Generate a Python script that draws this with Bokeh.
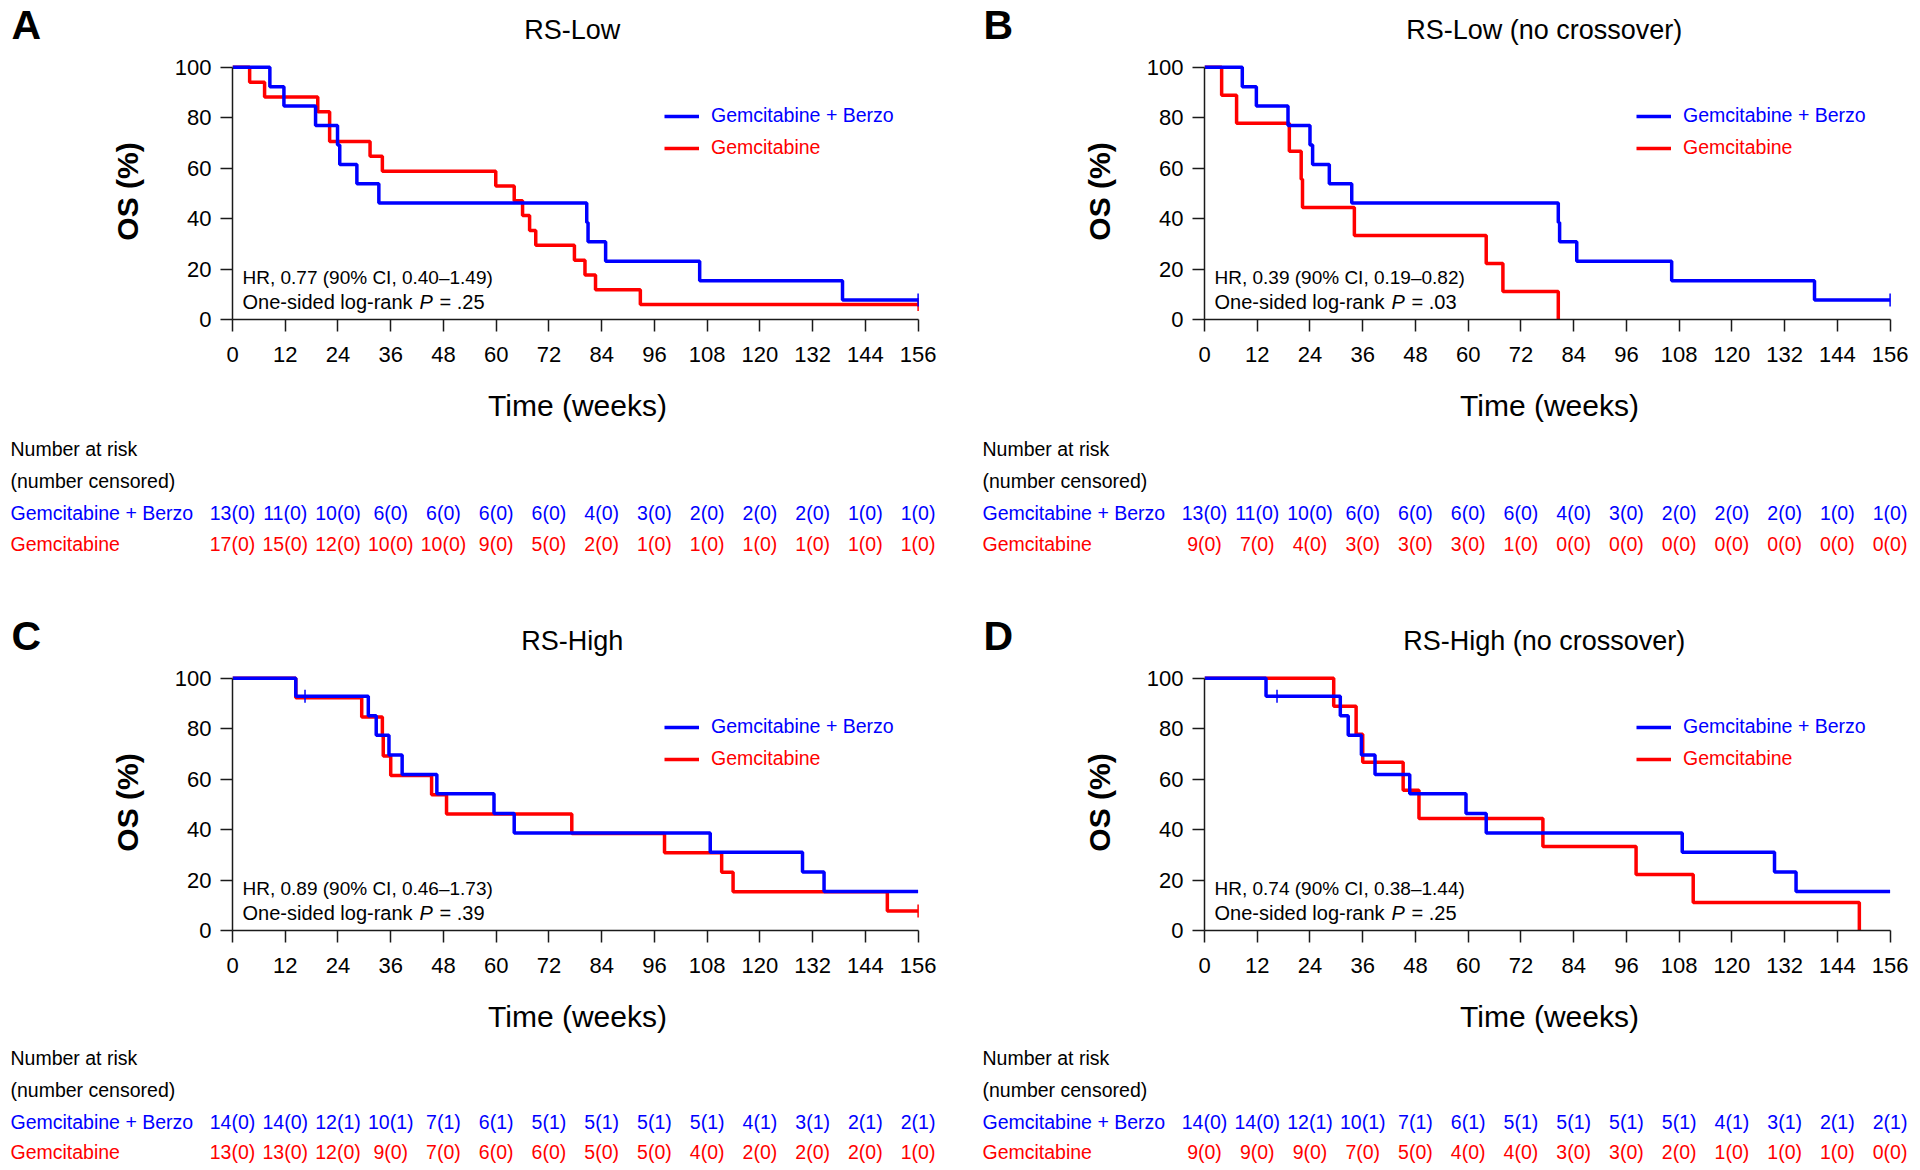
import numpy as np
from bokeh.plotting import figure
from bokeh.models import Range1d, FixedTicker, Legend, LegendItem, Label, ColumnDataSource
from bokeh.layouts import row
from bokeh.core.properties import value
from bokeh.embed import file_html
from bokeh.resources import INLINE

# ---------------- data ----------------
TICKS_X = [0, 12, 24, 36, 48, 60, 72, 84, 96, 108, 120, 132, 144, 156]
TICKS_Y = [0, 20, 40, 60, 80, 100]
ARM_BERZO = "Gemcitabine + Berzo"
ARM_GEM = "Gemcitabine"

TITLES = ["RS-Low", "RS-Low (no crossover)", "RS-High", "RS-High (no crossover)"]
LETTERS = ["A", "B", "C", "D"]
HR_TEXT = ["HR, 0.77 (90% CI, 0.40\u20131.49)", "HR, 0.39 (90% CI, 0.19\u20130.82)",
           "HR, 0.89 (90% CI, 0.46\u20131.73)", "HR, 0.74 (90% CI, 0.38\u20131.44)"]
P_TEXT = ["= .25", "= .03", "= .39", "= .25"]

# Panel A
A_BERZO_T = [0, 8.5, 11.7, 18.9, 23.9, 24.4, 28.3, 33.3, 80.6, 80.9, 84.9, 106.3, 138.8, 156]
A_BERZO_S = [100, 92.3, 84.6, 76.9, 69.2, 61.5, 53.8, 46.2, 38.5, 30.8, 23.1, 15.4, 7.7, 7.7]
A_BERZO_CT = [156]
A_BERZO_CS = [7.7]
A_GEM_T = [0, 3.9, 7.3, 19.4, 22.1, 31.3, 34.1, 59.9, 64.1, 66.0, 67.6, 69.0, 77.8, 80.2, 82.6, 92.8, 156]
A_GEM_S = [100, 94.1, 88.2, 82.4, 70.6, 64.7, 58.8, 52.9, 47.1, 41.2, 35.3, 29.4, 23.5, 17.6, 11.8, 5.9, 5.9]
A_GEM_CT = [156]
A_GEM_CS = [5.9]
A_BERZO_RISK = [13, 11, 10, 6, 6, 6, 6, 4, 3, 2, 2, 2, 1, 1]
A_BERZO_CENS = [0, 0, 0, 0, 0, 0, 0, 0, 0, 0, 0, 0, 0, 0]
A_GEM_RISK = [17, 15, 12, 10, 10, 9, 5, 2, 1, 1, 1, 1, 1, 1]
A_GEM_CENS = [0, 0, 0, 0, 0, 0, 0, 0, 0, 0, 0, 0, 0, 0]

# Panel B
B_BERZO_T = [0, 8.6, 11.8, 19.0, 24.0, 24.6, 28.4, 33.5, 80.5, 80.8, 84.7, 106.3, 138.8, 156]
B_BERZO_S = [100, 92.3, 84.6, 76.9, 69.2, 61.5, 53.8, 46.2, 38.5, 30.8, 23.1, 15.4, 7.7, 7.7]
B_BERZO_CT = [156]
B_BERZO_CS = [7.7]
B_GEM_T = [0, 3.9, 7.3, 19.3, 22.0, 22.3, 34.1, 64.1, 67.9, 80.5]
B_GEM_S = [100, 88.9, 77.8, 66.7, 55.6, 44.4, 33.3, 22.2, 11.1, 0]
B_GEM_CT = []
B_GEM_CS = []
B_BERZO_RISK = [13, 11, 10, 6, 6, 6, 6, 4, 3, 2, 2, 2, 1, 1]
B_BERZO_CENS = [0, 0, 0, 0, 0, 0, 0, 0, 0, 0, 0, 0, 0, 0]
B_GEM_RISK = [9, 7, 4, 3, 3, 3, 1, 0, 0, 0, 0, 0, 0, 0]
B_GEM_CENS = [0, 0, 0, 0, 0, 0, 0, 0, 0, 0, 0, 0, 0, 0]

# Panel C
C_BERZO_T = [0, 14.4, 30.9, 32.7, 35.6, 38.6, 46.5, 59.5, 64.1, 108.7, 129.7, 134.6, 156]
C_BERZO_S = [100, 92.9, 85.1, 77.4, 69.6, 61.9, 54.2, 46.4, 38.7, 31.0, 23.2, 15.5, 15.5]
C_BERZO_CT = [16.5]
C_BERZO_CS = [92.9]
C_GEM_T = [0, 14.4, 29.4, 34.1, 34.3, 36.0, 45.3, 48.7, 77.2, 98.3, 111.3, 113.9, 149.0, 156]
C_GEM_S = [100, 92.3, 84.6, 76.9, 69.2, 61.5, 53.8, 46.2, 38.5, 30.8, 23.1, 15.4, 7.7, 7.7]
C_GEM_CT = [156]
C_GEM_CS = [7.7]
C_BERZO_RISK = [14, 14, 12, 10, 7, 6, 5, 5, 5, 5, 4, 3, 2, 2]
C_BERZO_CENS = [0, 0, 1, 1, 1, 1, 1, 1, 1, 1, 1, 1, 1, 1]
C_GEM_RISK = [13, 13, 12, 9, 7, 6, 6, 5, 5, 4, 2, 2, 2, 1]
C_GEM_CENS = [0, 0, 0, 0, 0, 0, 0, 0, 0, 0, 0, 0, 0, 0]

# Panel D
D_BERZO_T = [0, 14.0, 30.9, 32.7, 35.7, 38.8, 46.7, 59.5, 64.1, 108.7, 129.7, 134.6, 156]
D_BERZO_S = [100, 92.9, 85.1, 77.4, 69.6, 61.9, 54.2, 46.4, 38.7, 31.0, 23.2, 15.5, 15.5]
D_BERZO_CT = [16.5]
D_BERZO_CS = [92.9]
D_GEM_T = [0, 29.4, 34.5, 36.0, 45.2, 48.8, 77.0, 98.2, 111.2, 149.0]
D_GEM_S = [100, 88.9, 77.8, 66.7, 55.6, 44.4, 33.3, 22.2, 11.1, 0]
D_GEM_CT = []
D_GEM_CS = []
D_BERZO_RISK = [14, 14, 12, 10, 7, 6, 5, 5, 5, 5, 4, 3, 2, 2]
D_BERZO_CENS = [0, 0, 1, 1, 1, 1, 1, 1, 1, 1, 1, 1, 1, 1]
D_GEM_RISK = [9, 9, 9, 7, 5, 4, 4, 3, 3, 2, 1, 1, 1, 0]
D_GEM_CENS = [0, 0, 0, 0, 0, 0, 0, 0, 0, 0, 0, 0, 0, 0]

# ---------------- styling / layout ----------------
FONT = "Liberation Sans"
BLUE = "#0000FF"
RED = "#FF0000"
INK = "#1a1a1a"

FRAME_W = 690
FRAME_H = 256
X_END = 157.0
Y_END = 101.5
S = FRAME_W / X_END          # px per week
SY = FRAME_H / Y_END         # px per %

HEAD_H = [51, 52]
KM_H = 378
KM_TOP = 12
KM_BOTTOM = KM_H - KM_TOP - FRAME_H
TABLE_H = [181, 126]
ROW_Y = [[19, 51, 83, 114], [17, 49, 81, 111]]

COLS = [dict(width=978, left=232), dict(width=936, left=226)]


def bare_fig(width, height, left, yh):
    p = figure(width=width, height=height,
               x_range=Range1d(-left / S, (width - left) / S),
               y_range=Range1d(yh, 0),
               x_axis_type=None, y_axis_type=None,
               output_backend="svg", toolbar_location=None,
               min_border_left=0, min_border_right=0, min_border_top=0, min_border_bottom=0)
    p.outline_line_color = None
    p.background_fill_color = "white"
    p.border_fill_color = "white"
    return p


def header(idx, col, rowi):
    c = COLS[col]
    h = HEAD_H[rowi]
    p = bare_fig(c["width"], h, c["left"], h)
    p.text(x=[-221 / S], y=[h - 27], text=[LETTERS[idx]], text_font=value(FONT),
           text_font_size="41px", text_font_style="bold", text_color="black",
           text_align="left", text_baseline="middle")
    p.text(x=[77.3], y=[h - 22], text=[TITLES[idx]], text_font=value(FONT),
           text_font_size="27px", text_color="black",
           text_align="center", text_baseline="middle")
    return p


def km(idx, col, curves):
    c = COLS[col]
    right = c["width"] - c["left"] - FRAME_W
    p = figure(width=c["width"], height=KM_H,
               x_range=Range1d(0, X_END), y_range=Range1d(0, Y_END),
               output_backend="svg", toolbar_location=None,
               min_border_left=c["left"], min_border_right=right,
               min_border_top=KM_TOP, min_border_bottom=KM_BOTTOM)
    p.outline_line_color = None
    p.grid.visible = False
    p.background_fill_color = "white"
    p.border_fill_color = "white"

    p.xaxis.ticker = FixedTicker(ticks=TICKS_X, minor_ticks=[])
    p.yaxis.ticker = FixedTicker(ticks=TICKS_Y, minor_ticks=[])
    p.xaxis.bounds = (0, 156)
    p.yaxis.bounds = (0, 100)
    for ax in (p.xaxis, p.yaxis):
        ax.axis_line_color = INK
        ax.axis_line_width = 1.5
        ax.major_tick_line_color = INK
        ax.major_tick_line_width = 1.5
        ax.major_tick_in = 0
        ax.major_tick_out = 12
        ax.minor_tick_line_color = None
        ax.major_label_text_font = FONT
        ax.major_label_text_font_size = "22px"
        ax.major_label_text_color = "black"
    p.xaxis.major_label_standoff = 15
    p.yaxis.major_label_standoff = 9
    p.xaxis.axis_label = "Time (weeks)"
    p.xaxis.axis_label_text_font = FONT
    p.xaxis.axis_label_text_font_size = "30px"
    p.xaxis.axis_label_text_font_style = "normal"
    p.xaxis.axis_label_text_color = "black"
    p.xaxis.axis_label_standoff = 24
    p.yaxis.axis_label = "OS (%)"
    p.yaxis.axis_label_text_font = FONT
    p.yaxis.axis_label_text_font_size = "30px"
    p.yaxis.axis_label_text_font_style = "bold"
    p.yaxis.axis_label_text_color = "black"
    p.yaxis.axis_label_standoff = 28

    (bt, bs, bct, bcs), (gt, gs, gct, gcs) = curves
    # red first, blue on top
    rr = p.step(x=gt, y=gs, mode="after", line_color=RED, line_width=3.5)
    p.scatter(x=gct, y=gcs, marker="dash", angle=np.pi / 2, size=13,
              line_color=RED, line_width=1.5)
    rb = p.step(x=bt, y=bs, mode="after", line_color=BLUE, line_width=3.5)
    p.scatter(x=bct, y=bcs, marker="dash", angle=np.pi / 2, size=13,
              line_color=BLUE, line_width=1.5)

    for rend, lab, colr, ypos in ((rb, ARM_BERZO, BLUE, 192), (rr, ARM_GEM, RED, 160)):
        leg = Legend(items=[LegendItem(label=lab, renderers=[rend])], location=(432, ypos),
                     border_line_color=None, background_fill_alpha=0, padding=0, margin=0,
                     label_text_font=FONT, label_text_font_size="19.5px", label_text_color=colr,
                     glyph_width=35, glyph_height=22, label_height=22, label_standoff=12, spacing=0)
        p.add_layout(leg)

    # HR annotation
    x0 = 10 / S
    p.add_layout(Label(x=x0, y=42 / SY, text=HR_TEXT[idx], text_font=FONT, text_font_size="19px",
                       text_color="black", text_baseline="middle", text_align="left"))
    p.add_layout(Label(x=x0, y=18 / SY, text="One-sided log-rank", text_font=FONT,
                       text_font_size="20px", text_color="black", text_baseline="middle",
                       text_align="left"))
    p.add_layout(Label(x=187 / S, y=18 / SY, text="P", text_font=FONT, text_font_size="20px",
                       text_font_style="italic", text_color="black", text_baseline="middle",
                       text_align="left"))
    p.add_layout(Label(x=207 / S, y=18 / SY, text=P_TEXT[idx], text_font=FONT,
                       text_font_size="20px", text_color="black", text_baseline="middle",
                       text_align="left"))
    return p


def table(idx, col, rowi, risk):
    c = COLS[col]
    h = TABLE_H[rowi]
    ry = ROW_Y[rowi]
    p = bare_fig(c["width"], h, c["left"], h)
    xl = -222 / S
    p.text(x=[xl, xl], y=[ry[0], ry[1]], text=["Number at risk", "(number censored)"],
           text_font=value(FONT), text_font_size="19.5px", text_color="black",
           text_align="left", text_baseline="middle")
    (br, bc), (gr, gc) = risk
    p.text(x=[xl], y=[ry[2]], text=[ARM_BERZO], text_font=value(FONT),
           text_font_size="19.5px", text_color=BLUE, text_align="left", text_baseline="middle")
    p.text(x=[xl], y=[ry[3]], text=[ARM_GEM], text_font=value(FONT),
           text_font_size="19.5px", text_color=RED, text_align="left", text_baseline="middle")
    src_b = ColumnDataSource(dict(x=TICKS_X, y=[ry[2]] * len(TICKS_X),
                                  t=[f"{n}({k})" for n, k in zip(br, bc)]))
    src_g = ColumnDataSource(dict(x=TICKS_X, y=[ry[3]] * len(TICKS_X),
                                  t=[f"{n}({k})" for n, k in zip(gr, gc)]))
    p.text(x="x", y="y", text="t", source=src_b, text_font=value(FONT), text_font_size="19.5px",
           text_color=BLUE, text_align="center", text_baseline="middle")
    p.text(x="x", y="y", text="t", source=src_g, text_font=value(FONT), text_font_size="19.5px",
           text_color=RED, text_align="center", text_baseline="middle")
    return p


PANELS = [
    (((A_BERZO_T, A_BERZO_S, A_BERZO_CT, A_BERZO_CS), (A_GEM_T, A_GEM_S, A_GEM_CT, A_GEM_CS)),
     ((A_BERZO_RISK, A_BERZO_CENS), (A_GEM_RISK, A_GEM_CENS))),
    (((B_BERZO_T, B_BERZO_S, B_BERZO_CT, B_BERZO_CS), (B_GEM_T, B_GEM_S, B_GEM_CT, B_GEM_CS)),
     ((B_BERZO_RISK, B_BERZO_CENS), (B_GEM_RISK, B_GEM_CENS))),
    (((C_BERZO_T, C_BERZO_S, C_BERZO_CT, C_BERZO_CS), (C_GEM_T, C_GEM_S, C_GEM_CT, C_GEM_CS)),
     ((C_BERZO_RISK, C_BERZO_CENS), (C_GEM_RISK, C_GEM_CENS))),
    (((D_BERZO_T, D_BERZO_S, D_BERZO_CT, D_BERZO_CS), (D_GEM_T, D_GEM_S, D_GEM_CT, D_GEM_CS)),
     ((D_BERZO_RISK, D_BERZO_CENS), (D_GEM_RISK, D_GEM_CENS))),
]

# separate roots (one per horizontal band) so that plot frames are not aligned across bands
roots = []
for rowi in range(2):
    heads, kms, tabs = [], [], []
    for col in range(2):
        idx = rowi * 2 + col
        curves, risk = PANELS[idx]
        heads.append(header(idx, col, rowi))
        kms.append(km(idx, col, curves))
        tabs.append(table(idx, col, rowi, risk))
    roots += [row(*heads, spacing=0), row(*kms, spacing=0), row(*tabs, spacing=0)]

open("out.html", "w").write(file_html(roots, INLINE))
